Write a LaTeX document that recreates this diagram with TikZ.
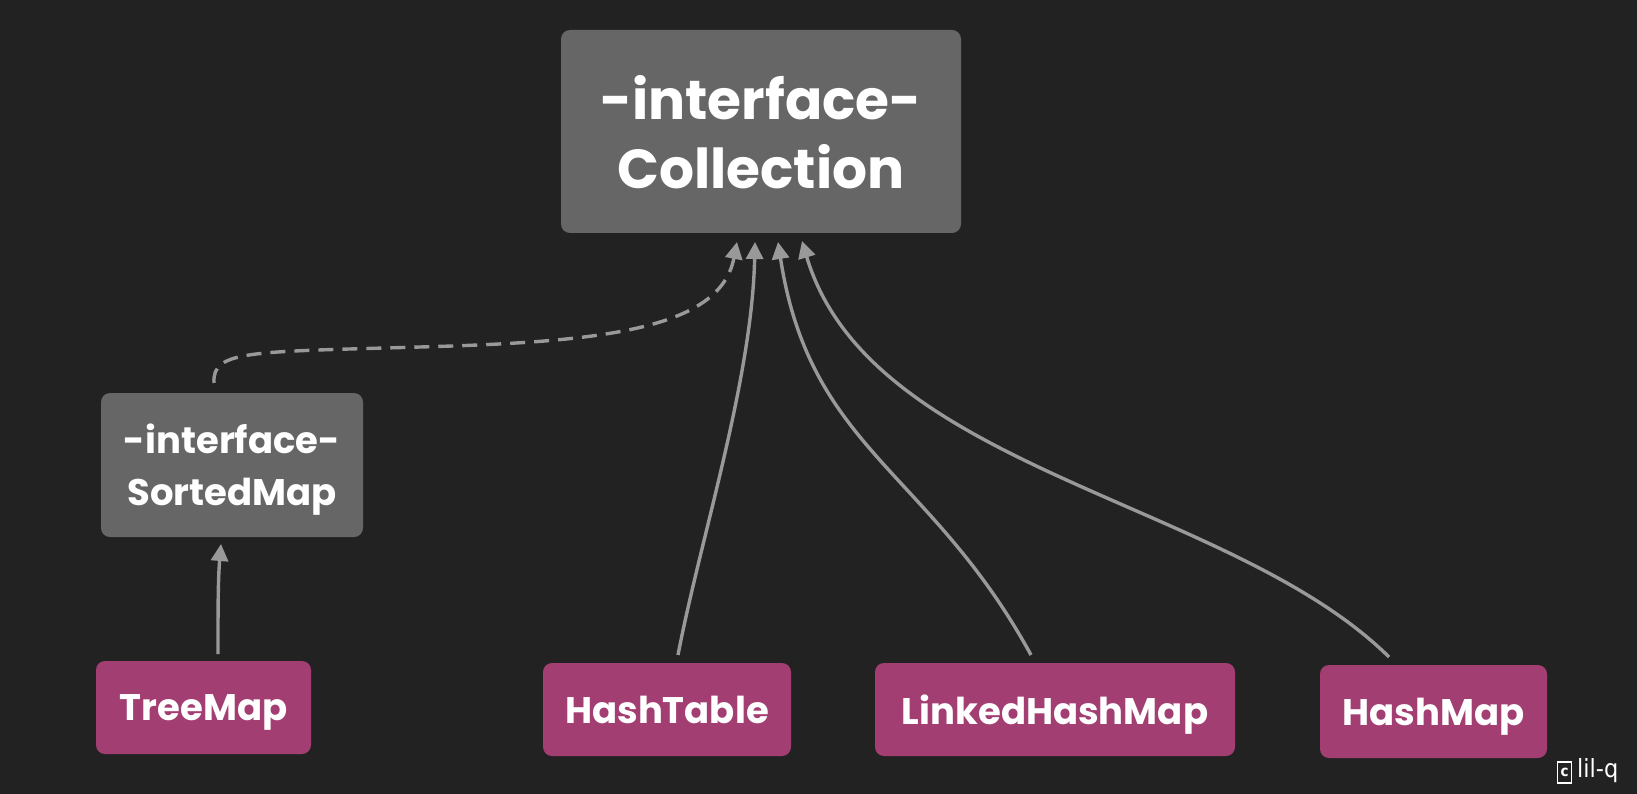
\documentclass[tikz,border=0pt]{standalone}
\usepackage{fontspec}
\setmainfont{Poppins}
\newfontfamily\copyfont{DejaVu Sans Condensed}
\usetikzlibrary{arrows.meta}
\definecolor{bg}{HTML}{222222}
\definecolor{ibox}{HTML}{666666}
\definecolor{cbox}{HTML}{A23E72}
\definecolor{arr}{HTML}{999999}
\begin{document}
\begin{tikzpicture}[x=1pt,y=-1pt,
  box/.style={rounded corners=9pt, text=white, font=\bfseries, align=center, inner sep=0pt, text depth=0pt},
  iface/.style={box, fill=ibox},
  cls/.style={box, fill=cbox, font=\bfseries\fontsize{37}{52}\selectfont},
  link/.style={draw=arr, line width=3.4pt, -{Triangle[width=17pt,length=17pt]}},
]
\fill[bg] (0,0) rectangle (1637,794);
\useasboundingbox (0,0) rectangle (1637,794);

\node[iface, minimum width=400pt, minimum height=203pt, font=\bfseries\fontsize{55}{69}\selectfont] (coll) at (761,131.5) {-interface-\\Collection};
\node[iface, minimum width=262pt, minimum height=144pt, font=\bfseries\fontsize{37}{52}\selectfont] (sorted) at (232,465) {-interface-\\SortedMap};
\node[cls, minimum width=215pt, minimum height=93pt] (tree) at (203.5,707.5) {TreeMap};
\node[cls, minimum width=248pt, minimum height=93pt] (htable) at (667,709.5) {HashTable};
\node[cls, minimum width=360pt, minimum height=93pt] (lhm) at (1055,709.5) {LinkedHashMap};
\node[cls, minimum width=227pt, minimum height=93pt] (hm) at (1433.5,711.5) {HashMap};

\coordinate (t1) at (737,242);
\coordinate (t2) at (755,242);
\coordinate (t3) at (778,242);
\coordinate (t4) at (802,241);
\coordinate (s1) at (214,383);
\coordinate (s2) at (678,655);
\coordinate (s3) at (1031,655);
\coordinate (s4) at (1389,657);
\coordinate (s5) at (218,654);
\coordinate (t5) at (221,544);

\draw[link, dashed, dash pattern=on 15pt off 9pt] (s1) .. controls (212,350) and (250,352) .. (420,347)
  .. controls (600,342) and (720,330) .. (t1);
\draw[link] (s2) .. controls (700,540) and (752,380) .. (t2);
\draw[link] (s3) .. controls (930,470) and (810,450) .. (t3);
\draw[link] (s4) .. controls (1230,500) and (870,470) .. (t4);
\draw[link] (s5) .. controls (218,610) and (218,580) .. (t5);

\node[draw=white, line width=1.6pt, inner sep=0pt, minimum width=14pt, minimum height=21pt, text=white,
  font=\copyfont\bfseries\fontsize{15}{16}\selectfont] (cmark) at (1564.5,772.5) {c};
\node[text=white, font=\copyfont\fontsize{25}{26}\selectfont, anchor=west, inner sep=0pt] (copy) at (1577,771) {lil-q};
\end{tikzpicture}
\end{document}
